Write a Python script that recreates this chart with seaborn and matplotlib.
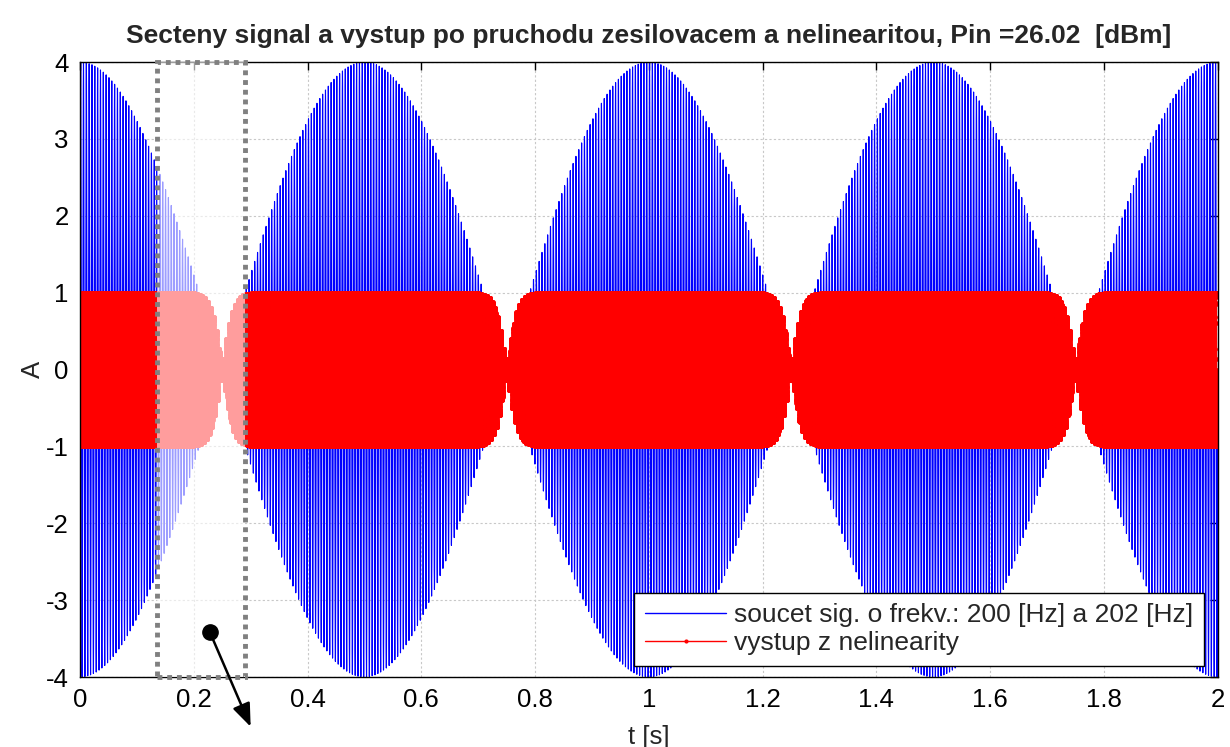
import numpy as np
import pandas as pd
import seaborn as sns
import matplotlib.pyplot as plt
from matplotlib.patches import Rectangle

# signal parameters (read from title / legend)
f1 = 200.0          # Hz
f2 = 202.0          # Hz
amp = 2.0           # amplitude of each tone
fs = 20000.0        # sampling rate
t_end = 2.0
gain = 2.2          # gain before saturating nonlinearity
pin_dbm = 26.02

x_ticks = [0, 0.2, 0.4, 0.6, 0.8, 1, 1.2, 1.4, 1.6, 1.8, 2]
x_tick_labels = ["0", "0.2", "0.4", "0.6", "0.8", "1", "1.2", "1.4", "1.6", "1.8", "2"]
y_ticks = [-4, -3, -2, -1, 0, 1, 2, 3, 4]

# zoom rectangle and annotation (data coords)
rect_x = [0.135, 0.29]
dot_xy = (0.228, -3.41)
arrow_tip = (0.302, -4.68)

t = np.arange(0, t_end + 1 / fs, 1 / fs)
sig = amp * np.sin(2 * np.pi * f1 * t) + amp * np.sin(2 * np.pi * f2 * t)
out = np.tanh(gain * sig)
df = pd.DataFrame({"t": t, "sig": sig, "out": out})

sns.set_style("white")
plt.rcParams['font.family'] = ['Liberation Sans', 'DejaVu Sans']
plt.rcParams['axes.unicode_minus'] = False

fig = plt.figure(figsize=(12.3, 7.47), dpi=100)
ax = fig.add_axes([0.065, 0.0937, 0.925, 0.8233])

sns.lineplot(data=df, x="t", y="sig", ax=ax, color="#0000ff", linewidth=0.8,
             estimator=None, sort=False,
             label="soucet sig. o frekv.: 200 [Hz] a 202 [Hz]")
sns.lineplot(data=df, x="t", y="out", ax=ax, color="#ff0000", linewidth=1.3,
             marker=".", markersize=7, markeredgewidth=0, estimator=None, sort=False,
             label="vystup z nelinearity")

# lightened zoom region with dotted frame
ax.add_patch(Rectangle((rect_x[0], -4), rect_x[1] - rect_x[0], 8,
                       facecolor="white", alpha=0.62, edgecolor="none", zorder=5))
ax.add_patch(Rectangle((rect_x[0], -4), rect_x[1] - rect_x[0], 8,
                       facecolor="none", edgecolor="#808080", linewidth=3.5,
                       linestyle=(0, (1, 1)), zorder=6, clip_on=False))

ax.plot(*dot_xy, "o", color="black", markersize=11, zorder=8, clip_on=False)
ax.annotate("", xy=arrow_tip, xytext=dot_xy, annotation_clip=False, zorder=8,
            arrowprops=dict(arrowstyle="-|>,head_length=1.4,head_width=0.55",
                            color="black", linewidth=1.8))

ax.set_xlim(0, 2)
ax.set_ylim(-4, 4)
ax.set_xticks(x_ticks)
ax.set_xticklabels(x_tick_labels)
ax.set_yticks(y_ticks)
ax.tick_params(direction="in", length=6, width=1, top=True, right=True,
               labelsize=18.5, pad=8, colors="black")
ax.grid(True, color="#c8c8c8", linestyle=(0, (2, 2)), linewidth=0.8)
for s in ax.spines.values():
    s.set_color("black")
    s.set_linewidth(1)

ax.set_xlabel("t [s]", fontsize=18.5, labelpad=9)
ax.set_ylabel("A", fontsize=18.5, labelpad=1)
ax.set_title("Secteny signal a vystup po pruchodu zesilovacem a nelinearitou, Pin =%.2f  [dBm]" % pin_dbm,
             fontsize=19, fontweight="bold", pad=14)

leg = ax.legend(loc="lower right", bbox_to_anchor=(0.988, 0.018), fontsize=19,
                frameon=True, fancybox=False, edgecolor="black", framealpha=1,
                borderpad=0.4, labelspacing=0.15, handlelength=3.1, handletextpad=0.3,
                borderaxespad=0)
leg.get_frame().set_linewidth(1)
for h in leg.get_lines():
    h.set_linewidth(1.0)
    h.set_markersize(6)
leg.set_zorder(10)

fig.savefig("out.png", dpi=100)
